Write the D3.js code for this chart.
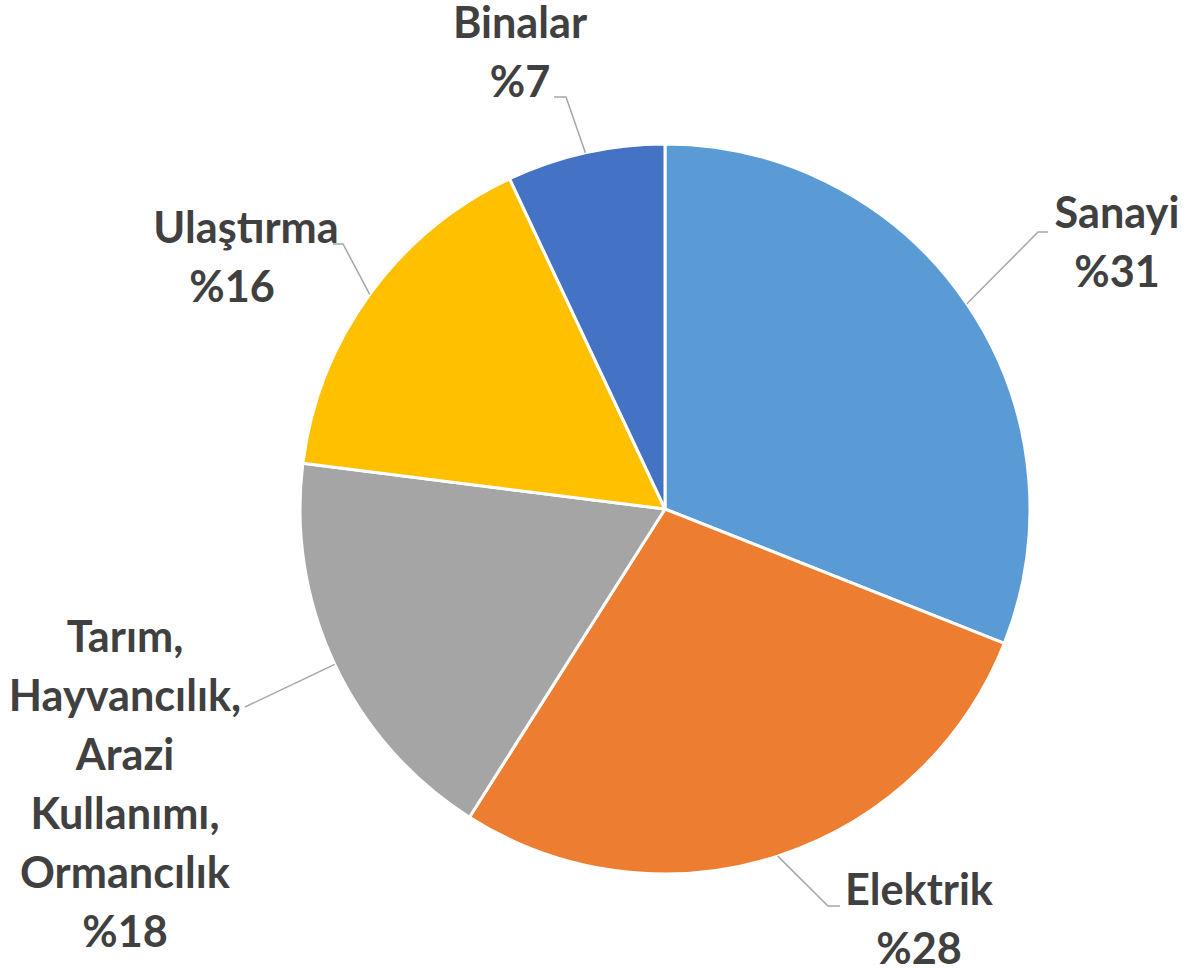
<!DOCTYPE html>
<html>
<head>
<meta charset="utf-8">
<script src="https://cdn.jsdelivr.net/npm/d3@7"></script>
<style>
  body { margin: 0; background: #fff; }
  text { font-family: Lato, "Open Sans", sans-serif; font-weight: 700; fill: #404040; }
</style>
</head>
<body>
<svg id="chart" width="1185" height="971"></svg>
<script>
// data
const categories = ['Sanayi', 'Elektrik', 'Tarım, Hayvancılık, Arazi Kullanımı, Ormancılık', 'Ulaştırma', 'Binalar'];
const shares = [31, 28, 18, 16, 7];
const colors = ['#5B9BD5', '#ED7D31', '#A5A5A5', '#FFC000', '#4472C4'];

// how each label wraps
const labelLines = [
    ['Sanayi'],
    ['Elektrik'],
    ['Tarım,', 'Hayvancılık,', 'Arazi', 'Kullanımı,', 'Ormancılık'],
    ['Ulaştırma'],
    ['Binalar']
];

// label placement (x center, first baseline, leader bend + end)
const labelPos = [
    { x: 1117, y: 228, bend: [1038, 232], end: [1048, 232] },
    { x: 919, y: 905, bend: [828, 906], end: [840, 906] },
    { x: 125, y: 652, bend: null, end: [245, 707] },
    { x: 246, y: 243, bend: [343, 244], end: [333, 244], dx: [0, -14] },
    { x: 520, y: 38, bend: [566, 97], end: [554, 97] }
];

const svg = d3.select('#chart');
const cx = 665, cy = 509, radius = 365;
const lineHeight = 59;

const pie = d3.pie().sort(null).value(d => d.value);
const arcs = pie(shares.map((v, i) => ({ value: v, name: categories[i], i: i })));

const arc = d3.arc().innerRadius(0).outerRadius(radius);

const g = svg.append('g').attr('transform', `translate(${cx},${cy})`);

g.selectAll('path')
    .data(arcs)
    .enter()
    .append('path')
    .attr('d', arc)
    .attr('fill', d => colors[d.data.i])
    .attr('stroke', '#fff')
    .attr('stroke-width', 3)
    .attr('stroke-linejoin', 'round');

// size the font so it matches the reference text width
const probe = svg.append('text').attr('font-size', 40).text('Elektrik');
const fontSize = 40 * 148 / probe.node().getComputedTextLength();
probe.remove();

// leader lines
arcs.forEach(d => {
    const p = labelPos[d.data.i];
    const mid = (d.startAngle + d.endAngle) / 2;
    const start = [cx + radius * Math.sin(mid), cy - radius * Math.cos(mid)];
    const pts = [start];
    if (p.bend) pts.push(p.bend);
    pts.push(p.end);
    svg.append('path')
        .attr('d', d3.line()(pts))
        .attr('fill', 'none')
        .attr('stroke', '#A6A6A6')
        .attr('stroke-width', 1.5);
});

// labels
arcs.forEach(d => {
    const p = labelPos[d.data.i];
    const lines = labelLines[d.data.i].concat(['%' + d.data.value]);
    const t = svg.append('text')
        .attr('text-anchor', 'middle')
        .attr('font-size', fontSize);
    lines.forEach((s, k) => {
        t.append('tspan')
            .attr('x', p.x + (p.dx ? (p.dx[k] || 0) : 0))
            .attr('y', p.y + k * lineHeight)
            .text(s);
    });
});
</script>
</body>
</html>
